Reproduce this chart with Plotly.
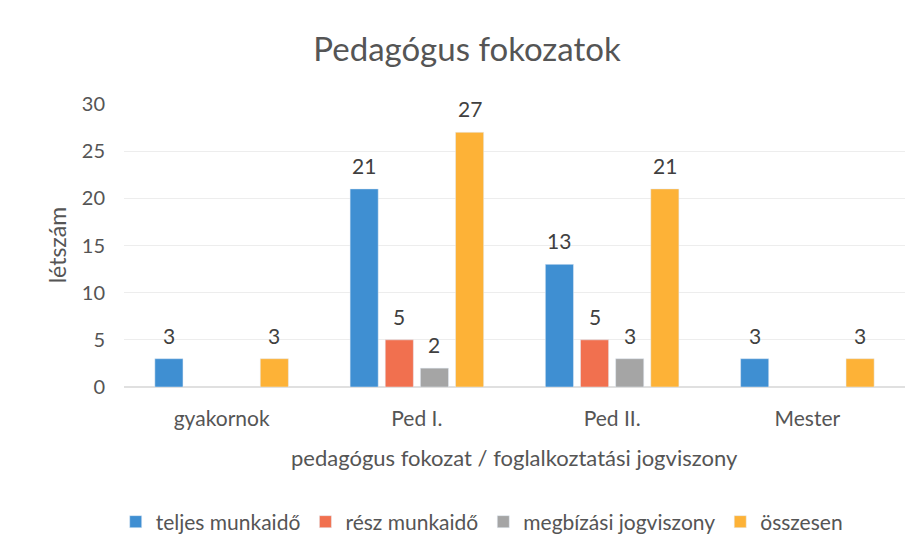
import plotly.graph_objects as go

categories = ["gyakornok", "Ped I.", "Ped II.", "Mester"]
teljes = [3, 21, 13, 3]
resz = [None, 5, 5, None]
megbizasi = [None, 2, 3, None]
osszesen = [3, 27, 21, 3]

series = [
    ("teljes munkaidő", teljes, "#3f8fd2"),
    ("rész munkaidő", resz, "#f1704f"),
    ("megbízási jogviszony", megbizasi, "#a5a5a5"),
    ("összesen", osszesen, "#fdb237"),
]

FONT = "Lato"
BARGAP = 0.28
BARGROUPGAP = 0.2
fig = go.Figure()
for name, vals, col in series:
    fig.add_trace(go.Bar(
        x=categories, y=vals, name=name, marker_color=col,
    ))

# data labels above bars, placed with the library's category scale
n = len(series)
slot = (1 - BARGAP) / n
for i, (name, vals, col) in enumerate(series):
    off = (i - (n - 1) / 2) * slot
    for j, v in enumerate(vals):
        if v is None:
            continue
        fig.add_annotation(x=j + off, y=v, xref="x", yref="y", text=str(v),
                           showarrow=False, yanchor="bottom", yshift=9,
                           font=dict(family=FONT, size=21, color="#404040"))

fig.update_layout(
    width=918, height=556,
    margin=dict(l=116, r=21, t=96, b=177),
    paper_bgcolor="white", plot_bgcolor="white",
    barmode="group", bargap=BARGAP, bargroupgap=BARGROUPGAP,
    font=dict(family=FONT, color="#555555"),
    title=dict(text="Pedagógus fokozatok", x=0.5, xanchor="center", y=0.925, yanchor="middle",
               font=dict(family=FONT, size=33, color="#555555")),
    showlegend=True,
    legend=dict(orientation="h", x=0.458, xanchor="center", y=-0.477, yanchor="middle",
                font=dict(family=FONT, size=21, color="#555555"),
                traceorder="normal"),
)
fig.update_yaxes(range=[0, 30], dtick=5, showgrid=True, gridcolor="#ededed", gridwidth=1,
                 zeroline=True, zerolinecolor="#e0e0e0", showline=False,
                 tickfont=dict(family=FONT, size=20, color="#555555"),
                 ticklabelstandoff=18)
fig.update_xaxes(showline=False, showgrid=False,
                 tickfont=dict(family=FONT, size=21, color="#555555"),
                 ticklabelstandoff=17)
fig.add_annotation(text="létszám", textangle=-90, xref="paper", yref="paper",
                   x=-0.086, y=0.5, xanchor="center", yanchor="middle", showarrow=False,
                   font=dict(family=FONT, size=23, color="#555555"))
fig.add_annotation(text="pedagógus fokozat / foglalkoztatási jogviszony", xref="paper", yref="paper",
                   x=0.5, y=-0.248, xanchor="center", yanchor="middle", showarrow=False,
                   font=dict(family=FONT, size=22, color="#555555"))
fig.write_html("out.html")
